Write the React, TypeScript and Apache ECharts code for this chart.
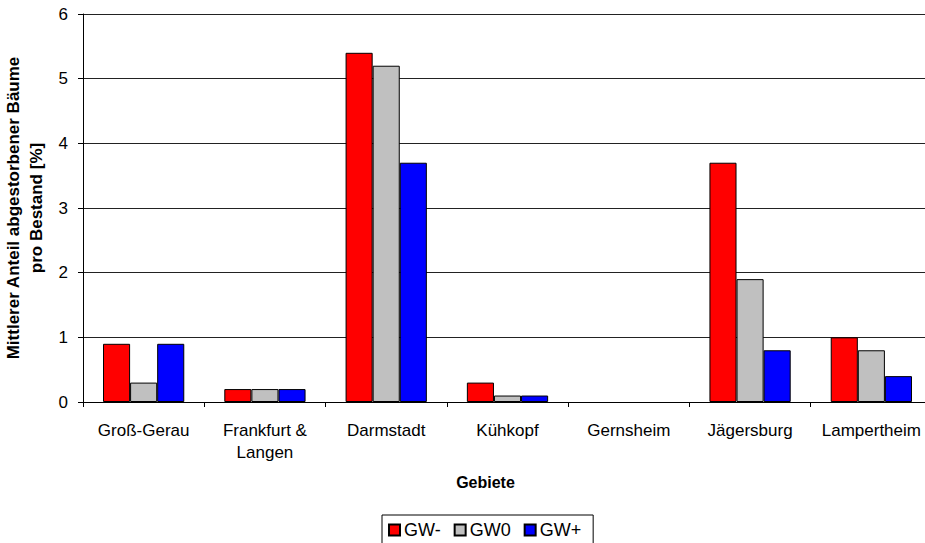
import React, { useEffect, useRef } from "react";
import * as echarts from "echarts";

const categories = ["Groß-Gerau", "Frankfurt &\nLangen", "Darmstadt", "Kühkopf", "Gernsheim", "Jägersburg", "Lampertheim"];
const seriesNames = ["GW-", "GW0", "GW+"];
const gwMinus = [0.9, 0.2, 5.4, 0.3, 0, 3.7, 1.0];
const gwZero = [0.3, 0.2, 5.2, 0.1, 0, 1.9, 0.8];
const gwPlus = [0.9, 0.2, 3.7, 0.1, 0, 0.8, 0.4];
const colors = ["#FF0000", "#C0C0C0", "#0000FF"];

const FONT = "Arial, 'Liberation Sans', sans-serif";

export default function App() {
  const ref = useRef<HTMLDivElement>(null);
  useEffect(() => {
    document.body.style.margin = "0";
    const chart = echarts.init(ref.current!, null, { renderer: "svg" });
    const data = [gwMinus, gwZero, gwPlus];
    chart.setOption({
      animation: false,
      textStyle: { fontFamily: FONT },
      grid: { left: 83, top: 14, width: 849, height: 388, containLabel: false, outerBoundsMode: "none" },
      legend: {
        left: 382,
        top: 515,
        padding: [6, 12, 8, 6],
        borderColor: "#000",
        borderWidth: 1,
        itemWidth: 11,
        itemHeight: 11,
        itemGap: 13,
        icon: "rect",
        textStyle: { fontSize: 18, color: "#000", fontFamily: FONT, padding: [0, 0, 0, -1] },
        data: seriesNames,
      },
      xAxis: {
        type: "category",
        data: categories,
        name: "Gebiete",
        nameLocation: "middle",
        nameGap: 72,
        nameTextStyle: { fontSize: 16, fontWeight: "bold", color: "#000", fontFamily: FONT, padding: [0, 44, 0, 0] },
        axisLine: { lineStyle: { color: "#000", width: 1 } },
        axisTick: { show: true, length: 5, lineStyle: { color: "#000" } },
        axisLabel: { fontSize: 17, color: "#000", margin: 17, lineHeight: 22, interval: 0, fontFamily: FONT },
      },
      yAxis: {
        type: "value",
        min: 0,
        max: 6,
        interval: 1,
        name: "Mittlerer Anteil abgestorbener Bäume\npro Bestand [%]",
        nameLocation: "middle",
        nameRotate: 90,
        nameGap: 34,
        nameTextStyle: { fontSize: 17, fontWeight: "bold", color: "#000", lineHeight: 23, fontFamily: FONT },
        axisLine: { show: true, lineStyle: { color: "#000", width: 1 } },
        axisTick: { show: true, length: 5, lineStyle: { color: "#000" } },
        axisLabel: { fontSize: 17, color: "#000", margin: 15, fontFamily: FONT },
        splitLine: { show: true, lineStyle: { color: "#222", width: 1 } },
      },
      series: seriesNames.map((name, i) => ({
        name,
        type: "bar",
        data: data[i].map((v) => (v === 0 ? { value: v, itemStyle: { borderWidth: 0 } } : v)),
        barGap: "0%",
        barCategoryGap: "33%",
        itemStyle: { color: colors[i], borderColor: "#000", borderWidth: 1 },
      })),
    });
    return () => chart.dispose();
  }, []);
  return <div ref={ref} style={{ width: 925, height: 543 }} />;
}
